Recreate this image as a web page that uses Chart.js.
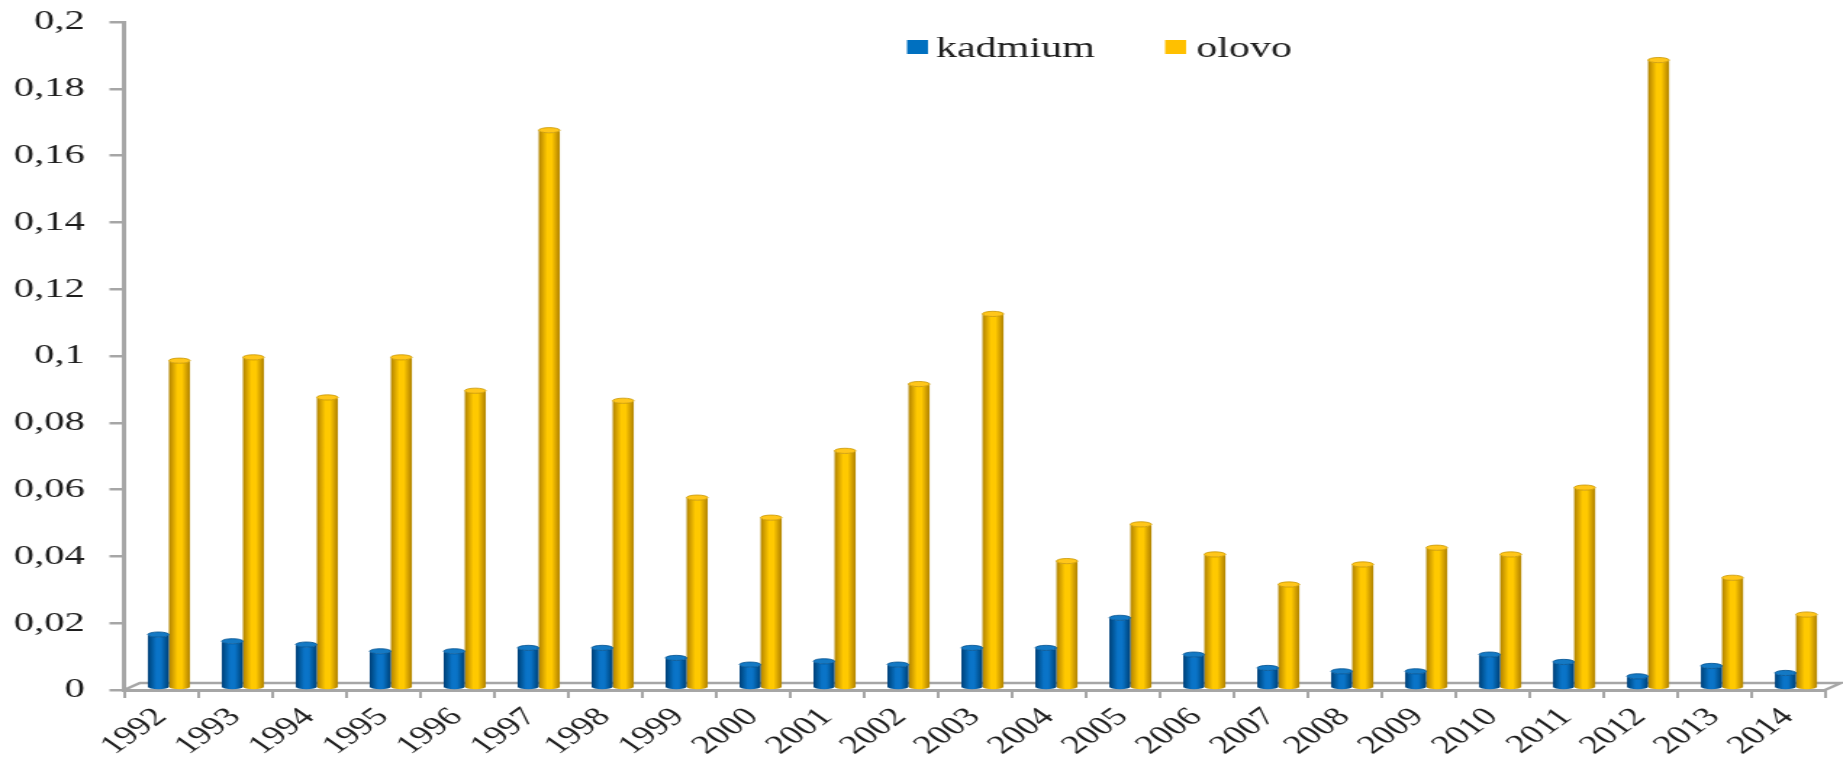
<!DOCTYPE html>
<html>
<head>
<meta charset="utf-8">
<script src="https://cdn.jsdelivr.net/npm/chart.js@4.4.1/dist/chart.umd.min.js"></script>
<style>
  html, body { margin: 0; padding: 0; background: #fff; overflow: hidden; }
  /* the chart is drawn narrow and stretched sideways, like the original figure */
  #chart { display: block; transform: scaleX(1.45); transform-origin: 0 0; }
</style>
</head>
<body>
<canvas id="chart" width="1271" height="758"></canvas>
<script>
const years = ['1992', '1993', '1994', '1995', '1996', '1997', '1998', '1999', '2000', '2001', '2002', '2003',
  '2004', '2005', '2006', '2007', '2008', '2009', '2010', '2011', '2012', '2013', '2014'];
const kadmium = [0.016, 0.014, 0.013, 0.011, 0.011, 0.012, 0.012, 0.009, 0.007, 0.008, 0.007, 0.012,
  0.012, 0.021, 0.010, 0.006, 0.005, 0.005, 0.010, 0.0078, 0.0035, 0.0066, 0.0045];
const olovo = [0.098, 0.099, 0.087, 0.099, 0.089, 0.167, 0.086, 0.057, 0.051, 0.071, 0.091, 0.112,
  0.038, 0.049, 0.040, 0.031, 0.037, 0.042, 0.040, 0.060, 0.188, 0.033, 0.022];
const seriesNames = ['kadmium', 'olovo'];
const seriesColors = ['#0070c0', '#ffc000'];

const AXIS_GREY = '#a6a6a6';
const TEXT_COLOR = '#1e1e1e';
const SERIF = "'Liberation Serif', 'Times New Roman', serif";

// 3D look: floor depth, bars stand in the middle of it
const DEPTH_X = 11;
const DEPTH_Y = 7;

// cylinder shading for each series
const shades = [
  { edge: '#003f78', body: '#0a74c8', top: '#1479c4', rim: '#00508f' },
  { edge: '#b08400', body: '#ffc900', top: '#ffc61a', rim: '#c89600' }
];

const cylinderBars = {
  id: 'cylinderBars',
  beforeDatasetsDraw(chart) {
    // floor outline behind the bars
    const { ctx } = chart;
    const { left, right, bottom } = chart.chartArea;
    ctx.save();
    ctx.strokeStyle = AXIS_GREY;
    ctx.lineWidth = 2.5;
    ctx.beginPath();
    ctx.moveTo(left, bottom);
    ctx.lineTo(left + DEPTH_X, bottom - DEPTH_Y);
    ctx.lineTo(right + DEPTH_X, bottom - DEPTH_Y);
    ctx.lineTo(right, bottom);
    ctx.stroke();
    ctx.restore();
  },
  beforeDatasetDraw(chart, args) {
    const ctx = chart.ctx;
    const shade = shades[args.index];
    args.meta.data.forEach(bar => {
      const { x, y, base, width } = bar.getProps(['x', 'y', 'base', 'width'], true);
      const cx = x + DEPTH_X / 2;
      const rx = width / 2;
      const ry = 2.6;
      const lft = cx - rx;
      const rgt = cx + rx;
      const top = y - 2;
      const bottom = base - 2;

      const grad = ctx.createLinearGradient(lft, 0, rgt, 0);
      grad.addColorStop(0, shade.edge);
      grad.addColorStop(0.12, shade.rim);
      grad.addColorStop(0.4, shade.body);
      grad.addColorStop(0.62, shade.body);
      grad.addColorStop(0.88, shade.rim);
      grad.addColorStop(1, shade.edge);

      ctx.save();
      ctx.fillStyle = grad;
      ctx.beginPath();
      ctx.moveTo(lft, top);
      ctx.lineTo(lft, bottom);
      ctx.ellipse(cx, bottom, rx, ry, 0, Math.PI, 0, true);
      ctx.lineTo(rgt, top);
      ctx.ellipse(cx, top, rx, ry, 0, 0, Math.PI, false);
      ctx.closePath();
      ctx.fill();

      // cap
      ctx.beginPath();
      ctx.ellipse(cx, top, rx, ry, 0, 0, Math.PI * 2);
      ctx.fillStyle = shade.top;
      ctx.fill();
      ctx.lineWidth = 0.8;
      ctx.strokeStyle = shade.rim;
      ctx.stroke();
      ctx.restore();
    });
    return false; // skip the flat default bars
  },
  afterDraw(chart) {
    // legend above the bars, right of centre
    const ctx = chart.ctx;
    const items = [
      { box: 625.5, text: 645.5 },
      { box: 803.5, text: 825 }
    ];
    ctx.save();
    ctx.font = `29px ${SERIF}`;
    ctx.textBaseline = 'alphabetic';
    items.forEach((item, i) => {
      ctx.fillStyle = seriesColors[i];
      ctx.fillRect(item.box, 40, 14.5, 14);
      ctx.fillStyle = TEXT_COLOR;
      ctx.fillText(seriesNames[i], item.text, 57);
    });
    ctx.restore();
  }
};

function formatTick(value) {
  return String(+value.toFixed(2)).replace('.', ',');
}

const ctx = document.getElementById('chart').getContext('2d');

new Chart(ctx, {
  type: 'bar',
  data: {
    labels: years,
    datasets: [
      { label: seriesNames[0], data: kadmium, backgroundColor: seriesColors[0] },
      { label: seriesNames[1], data: olovo, backgroundColor: seriesColors[1] }
    ]
  },
  options: {
    responsive: false,
    animation: false,
    layout: { padding: { top: 22, left: 0, right: 12.4, bottom: 0 } },
    datasets: {
      bar: { barPercentage: 1, categoryPercentage: 0.57 }
    },
    plugins: {
      legend: { display: false },
      tooltip: { enabled: false }
    },
    scales: {
      x: {
        ticks: {
          minRotation: 45,
          maxRotation: 45,
          padding: 4,
          color: TEXT_COLOR,
          font: { family: SERIF, size: 26 }
        },
        grid: { drawOnChartArea: false, offset: true, tickLength: 8, color: AXIS_GREY, lineWidth: 2 },
        border: { color: AXIS_GREY, width: 3 },
        afterFit(scale) {
          scale.height = 68;
          scale.paddingLeft = 0;
          scale.paddingRight = 0;
        }
      },
      y: {
        min: 0,
        max: 0.2,
        ticks: {
          stepSize: 0.02,
          padding: 17,
          color: TEXT_COLOR,
          font: { family: SERIF, size: 28 },
          callback: formatTick
        },
        grid: { drawOnChartArea: false, tickLength: 10, color: AXIS_GREY, lineWidth: 2.5 },
        border: { color: AXIS_GREY, width: 3 },
        afterFit(scale) {
          scale.width = 85.5;
          scale.paddingTop = 0;
          scale.paddingBottom = 0;
        }
      }
    }
  },
  plugins: [cylinderBars]
});
</script>
</body>
</html>
